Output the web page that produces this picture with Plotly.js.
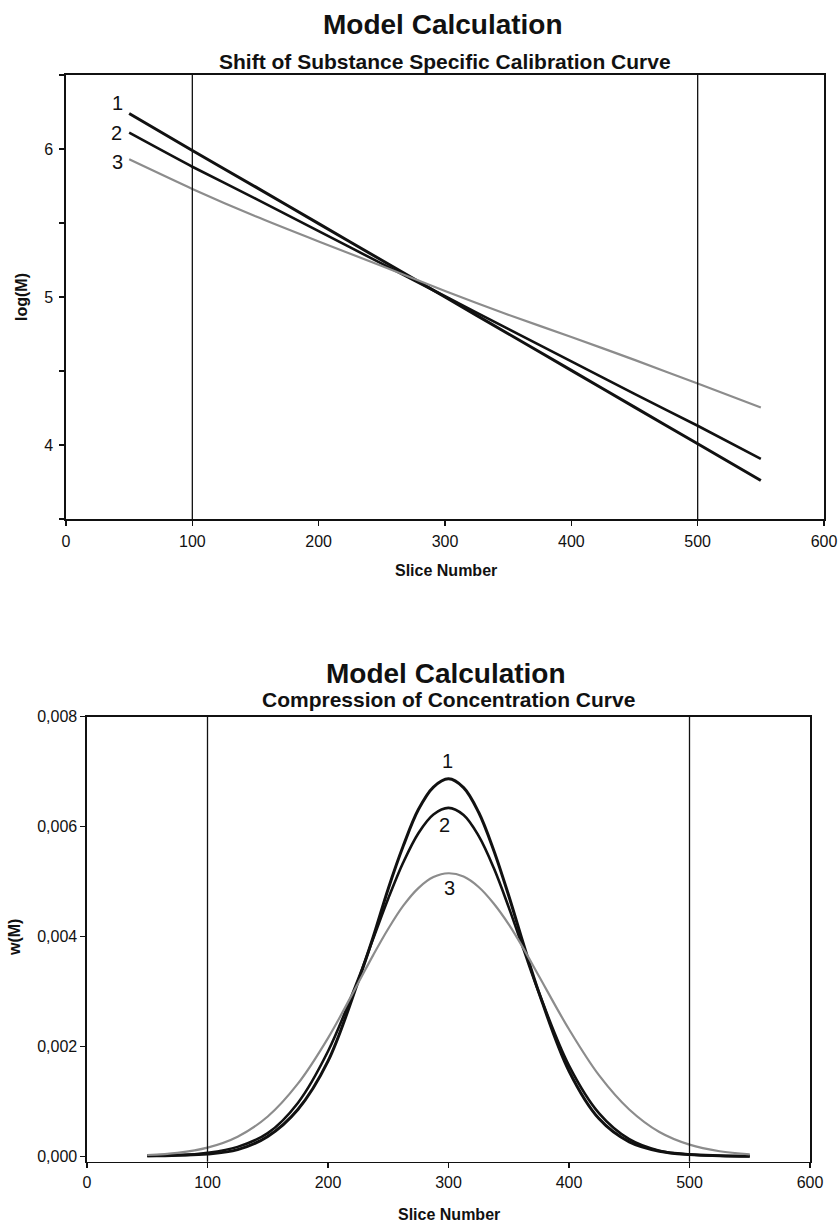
<!DOCTYPE html>
<html>
<head>
<meta charset="utf-8">
<script src="https://cdn.plot.ly/plotly-3.0.1.min.js"></script>
<style>
  html, body { margin: 0; padding: 0; background: #ffffff; }
  #chart { width: 840px; height: 1225px; }
</style>
</head>
<body>
<div id="chart"></div>
<script>
// Calibration curves: log(M) against slice number
const calSlices = [50, 100, 150, 200, 250, 300, 350, 400, 450, 500, 550];
const logM1 = [6.24, 5.99, 5.744, 5.496, 5.248, 5.0, 4.752, 4.504, 4.256, 4.008, 3.76];
const logM2 = [6.11, 5.88, 5.665, 5.445, 5.225, 5.005, 4.785, 4.565, 4.345, 4.13, 3.906];
const logM3 = [5.93, 5.73, 5.545, 5.375, 5.21, 5.04, 4.88, 4.73, 4.575, 4.415, 4.254];

// Concentration curves: w(M) against slice number (denser around the peak)
const concSlices = [50, 75, 100, 125, 150, 175, 200, 225, 237.5, 250, 262.5, 275, 287.5, 300,
                    312.5, 325, 337.5, 350, 362.5, 375, 400, 425, 450, 475, 500, 525, 550];
const w1 = [0.00001, 0.00002, 0.00004, 0.00012, 0.00036, 0.00085, 0.00173, 0.00318, 0.00399, 0.00487,
            0.00565, 0.00631, 0.00672, 0.00687, 0.00671, 0.00626, 0.00557, 0.00474, 0.00384, 0.00298,
            0.00155, 0.00068, 0.00026, 0.00009, 0.00003, 0.00001, 0.0];
const w2 = [0.000004, 0.000014, 0.00006, 0.00017, 0.00042, 0.00097, 0.00191, 0.00322, 0.00396, 0.00469,
            0.00535, 0.00588, 0.00622, 0.00634, 0.00621, 0.00583, 0.00525, 0.00453, 0.00375, 0.00298,
            0.00165, 0.00078, 0.00031, 0.0001, 0.00003, 0.000007, 0.000001];
const w3 = [0.000022, 0.000062, 0.000157, 0.000356, 0.000723, 0.00132, 0.00215, 0.00315, 0.00366, 0.00414,
            0.00456, 0.00488, 0.00508, 0.00515, 0.00509, 0.0049, 0.0046, 0.00422, 0.00377, 0.00328,
            0.00231, 0.00147, 0.00085, 0.00044, 0.00021, 0.00009, 0.000035];

// Evaluation window limits (slice numbers)
const sliceLimits = [100, 500];

// Curve numbers and where they sit
const curveNames = ['1', '2', '3'];
const calLabelX = [41, 40, 41];
const calLabelY = [6.31, 6.11, 5.91];
const concLabelX = [299, 297, 301];
const concLabelY = [0.00719, 0.00603, 0.00489];

const FONT = '"Liberation Sans", Arial, Helvetica, sans-serif';
const BLACK = '#111111';
const GREY = '#8c8c8c';

const lineStyles = [
  { color: BLACK, width: 3 },
  { color: BLACK, width: 2.6 },
  { color: GREY, width: 2.2 }
];

const traces = [];
[logM1, logM2, logM3].forEach((ys, i) => {
  traces.push({
    type: 'scatter', mode: 'lines', x: calSlices, y: ys,
    xaxis: 'x', yaxis: 'y', name: curveNames[i],
    line: Object.assign({ shape: 'spline', smoothing: 0.6 }, lineStyles[i]),
    hoverinfo: 'x+y'
  });
});
[w1, w2, w3].forEach((ys, i) => {
  traces.push({
    type: 'scatter', mode: 'lines', x: concSlices, y: ys,
    xaxis: 'x2', yaxis: 'y2', name: curveNames[i],
    line: Object.assign({ shape: 'spline', smoothing: 1 }, lineStyles[i]),
    hoverinfo: 'x+y'
  });
});

const axisBase = {
  showline: true, mirror: true, linecolor: BLACK, linewidth: 1.6,
  showgrid: false, zeroline: false,
  ticks: 'outside', ticklen: 5, tickwidth: 1.2, tickcolor: BLACK,
  tickfont: { family: FONT, size: 16, color: BLACK }
};

const shapes = [];
sliceLimits.forEach(s => {
  ['x', 'x2'].forEach((xr, k) => {
    shapes.push({
      type: 'line', xref: xr, yref: (k === 0 ? 'y domain' : 'y2 domain'),
      x0: s, x1: s, y0: 0, y1: 1,
      line: { color: BLACK, width: 1.3 }
    });
  });
});

const annotations = [];
function textAt(text, x, y, size, bold, extra) {
  annotations.push(Object.assign({
    text: bold ? '<b>' + text + '</b>' : text,
    x: x, y: y, xref: 'paper', yref: 'paper',
    xanchor: 'center', yanchor: 'middle', showarrow: false,
    font: { family: FONT, size: size, color: BLACK }
  }, extra || {}));
}
// Chart titles
textAt('Model Calculation', 0.5274, 0.9804, 28, true);
textAt('Shift of Substance Specific Calibration Curve', 0.5292, 0.9502, 21, true);
textAt('Model Calculation', 0.5310, 0.4506, 28, true);
textAt('Compression of Concentration Curve', 0.5340, 0.4286, 21, true);
// Axis titles
textAt('Slice Number', 0.531, 0.5339, 16, true);
textAt('Slice Number', 0.534, 0.0082, 16, true);
textAt('log(M)', 0.0262, 0.7576, 16, true, { textangle: -90 });
textAt('w(M)', 0.0179, 0.2343, 16, true, { textangle: -90 });

// Curve numbers
curveNames.forEach((n, i) => {
  annotations.push({
    text: n, x: calLabelX[i], y: calLabelY[i], xref: 'x', yref: 'y',
    showarrow: false, xanchor: 'center', yanchor: 'middle',
    font: { family: FONT, size: 20, color: BLACK }
  });
  annotations.push({
    text: n, x: concLabelX[i], y: concLabelY[i], xref: 'x2', yref: 'y2',
    showarrow: false, xanchor: 'center', yanchor: 'middle',
    font: { family: FONT, size: 20, color: BLACK }
  });
});

const layout = {
  width: 840, height: 1225,
  margin: { l: 0, r: 0, t: 0, b: 0, pad: 0 },
  paper_bgcolor: '#ffffff', plot_bgcolor: '#ffffff',
  showlegend: false,
  separators: ',.',
  font: { family: FONT, color: BLACK },
  xaxis: Object.assign({}, axisBase, {
    domain: [66 / 840, 824 / 840], anchor: 'y',
    range: [0, 600], tickvals: [0, 100, 200, 300, 400, 500, 600],
    ticklabelstandoff: 2
  }),
  yaxis: Object.assign({}, axisBase, {
    domain: [1 - 519 / 1225, 1 - 75 / 1225], anchor: 'x',
    range: [3.5, 6.5],
    tickvals: [3.5, 4, 4.5, 5, 5.5, 6, 6.5],
    ticktext: ['', '4', '', '5', '', '6', ''],
    ticklabelstandoff: 3
  }),
  xaxis2: Object.assign({}, axisBase, {
    domain: [87 / 840, 810 / 840], anchor: 'y2',
    range: [0, 600], tickvals: [0, 100, 200, 300, 400, 500, 600]
  }),
  yaxis2: Object.assign({}, axisBase, {
    domain: [1 - 1161.7 / 1225, 1 - 716.7 / 1225], anchor: 'x2',
    range: [-0.0001, 0.008],
    tickvals: [0, 0.002, 0.004, 0.006, 0.008], tickformat: '.3f'
  }),
  shapes: shapes,
  annotations: annotations
};

Plotly.newPlot('chart', traces, layout, { staticPlot: true, displayModeBar: false });
</script>
</body>
</html>
